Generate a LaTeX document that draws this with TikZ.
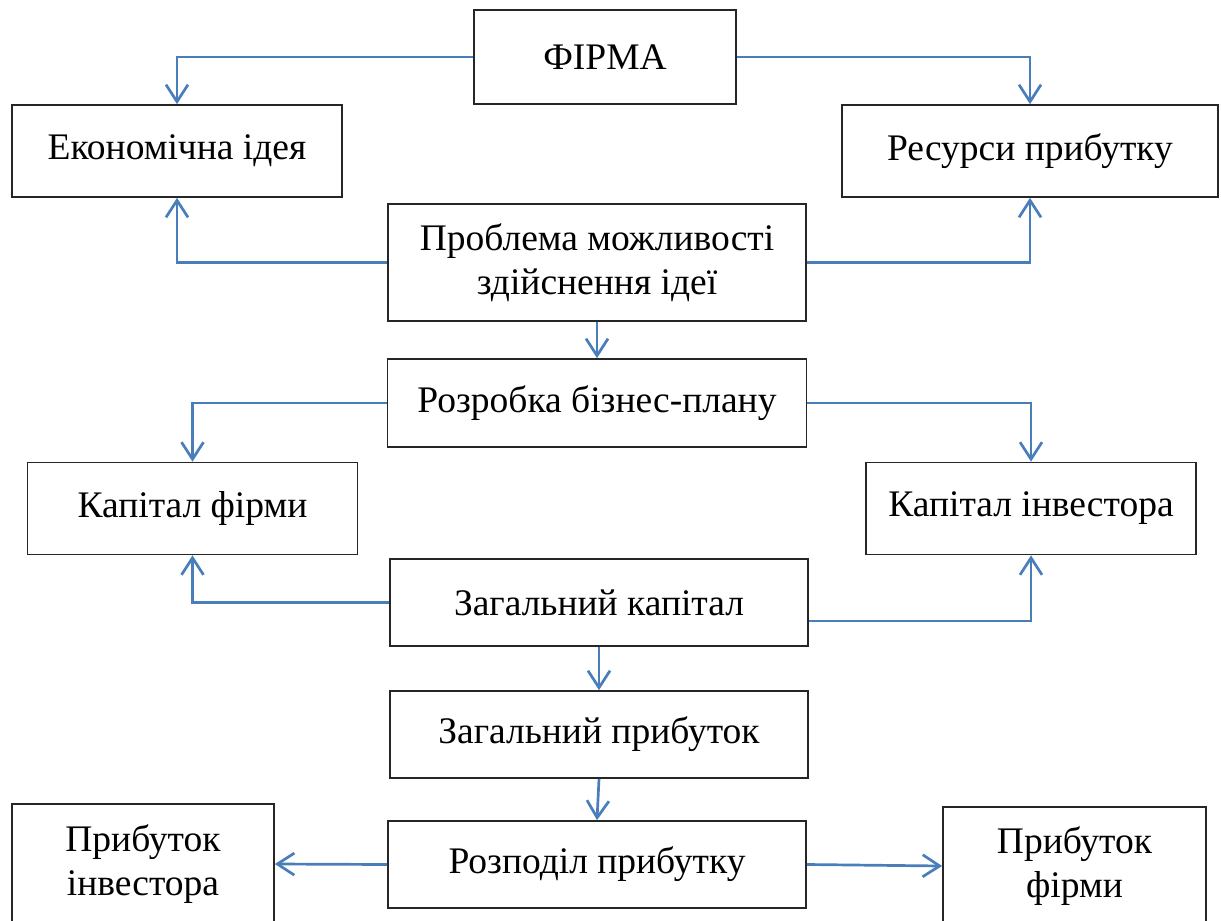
\documentclass[tikz,border=0pt]{standalone}
\usepackage{fontspec}
\setmainfont{Liberation Serif}
\usetikzlibrary{arrows.meta}
\definecolor{linkblue}{HTML}{4A7EBB}

\begin{document}
\begin{tikzpicture}[x=1pt,y=-1pt,
    box/.style={draw=black!85, line width=1.7pt, inner sep=0pt, align=center,
      font=\fontsize{37.5}{44}\selectfont},
    link/.style={draw=linkblue, line width=2.7pt,
      -{Straight Barb[length=17pt,width=22pt,line width=2.7pt]}}]
    \useasboundingbox (0,0) rectangle (1221,921);

    \node[box, minimum width=262pt, minimum height=94pt] (firm) at (605,57) {ФІРМА};
    \node[box, minimum width=330pt, minimum height=92pt] (idea) at (177,151) {Економічна ідея};
    \node[box, minimum width=376pt, minimum height=92pt] (res) at (1030,151) {Ресурси прибутку};
    \node[box, minimum width=418pt, minimum height=117pt] (prob) at (597,262.5) {Проблема можливості\\здійснення ідеї};
    \node[box, minimum width=419pt, minimum height=88pt] (plan) at (597,403) {Розробка бізнес-плану};
    \node[box, minimum width=330pt, minimum height=92pt] (capf) at (192.5,508.5) {Капітал фірми};
    \node[box, minimum width=330pt, minimum height=92pt] (capi) at (1031,508.5) {Капітал інвестора};
    \node[box, minimum width=418pt, minimum height=87pt] (tcap) at (599,602.5) {Загальний капітал};
    \node[box, minimum width=418pt, minimum height=87pt] (tprof) at (599,734.5) {Загальний прибуток};
    \node[box, minimum width=418pt, minimum height=87pt] (dist) at (597,864.5) {Розподіл прибутку};
    \node[box, minimum width=262pt, minimum height=120pt] (profi) at (143,864) {Прибуток\\інвестора};
    \node[box, minimum width=263pt, minimum height=118pt] (proff) at (1074.5,866) {Прибуток\\фірми};

    \draw[link] (firm.west) -| (idea.north);
    \draw[link] (firm.east) -| (res.north);
    \draw[link] (prob.west) -| (idea.south);
    \draw[link] (prob.east) -| (res.south);
    \draw[link] (prob.south) -- (plan.north);
    \draw[link] (plan.west) -| (capf.north);
    \draw[link] (plan.east) -| (capi.north);
    \draw[link] (tcap.west) -| (capf.south);
    \draw[link] ([yshift=-18.5pt]tcap.east) -| (capi.south);
    \draw[link] (tcap.south) -- (tprof.north);
    \draw[link] (tprof.south) -- (dist.north);
    \draw[link] (dist.west) -- (profi.east);
    \draw[link] (dist.east) -- (proff.west);
\end{tikzpicture}
\end{document}
